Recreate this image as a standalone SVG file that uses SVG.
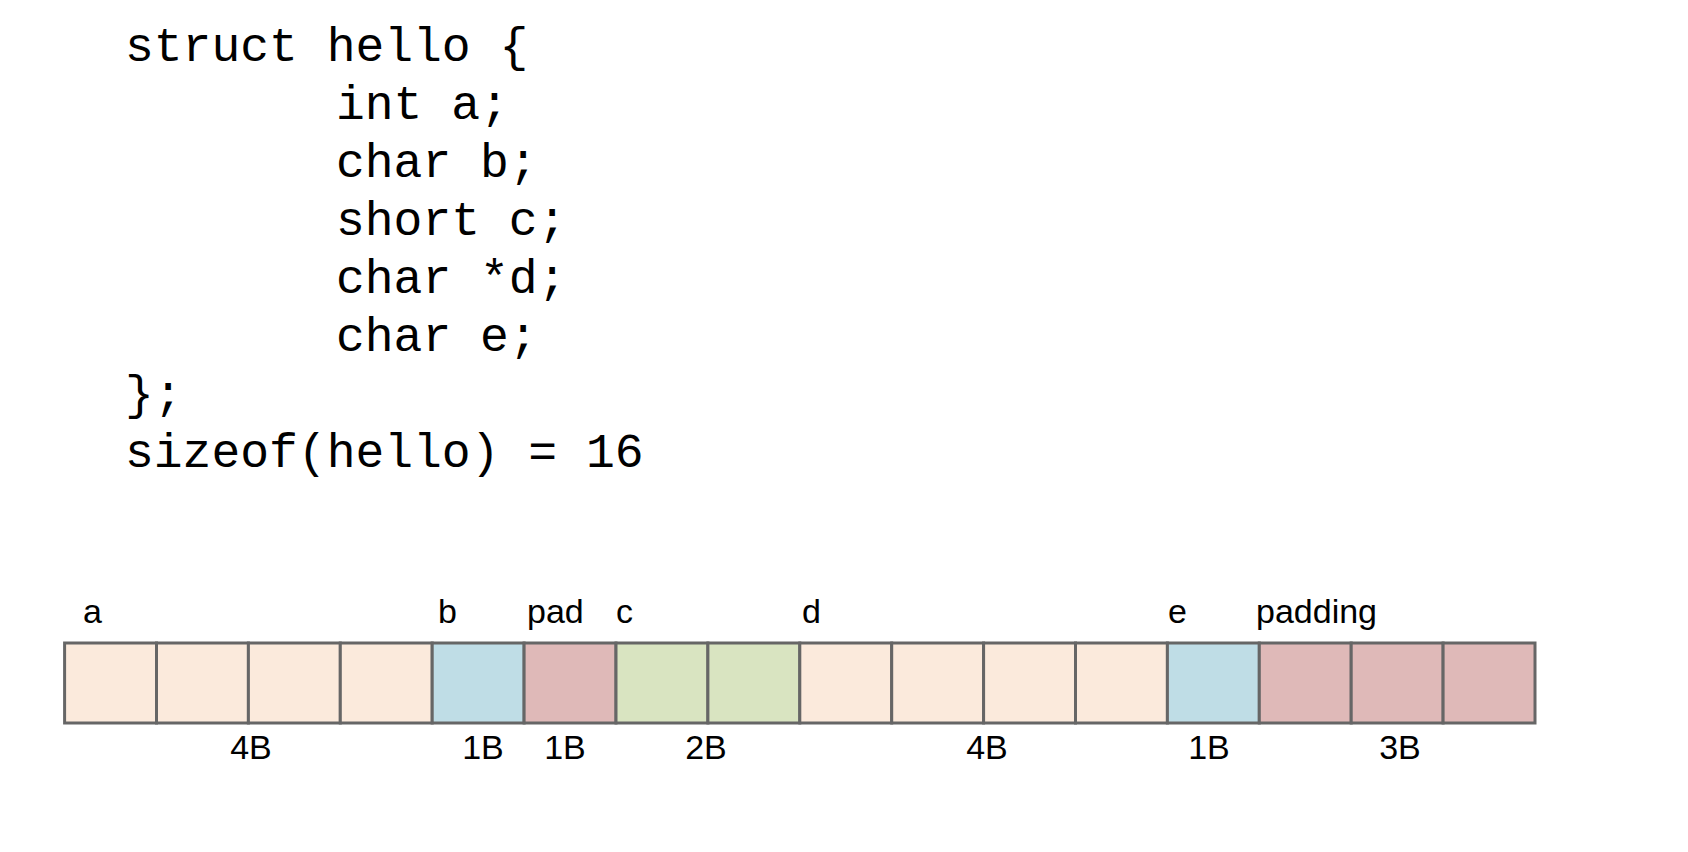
<svg xmlns="http://www.w3.org/2000/svg" width="1688" height="852" viewBox="0 0 1688 852">
<style>
.code{font-family:"Liberation Mono","Courier New",monospace;font-size:48px;fill:#000}
.lbl{font-family:"Liberation Sans",Arial,sans-serif;font-size:34px;fill:#000}
.sz{font-family:"Liberation Sans",Arial,sans-serif;font-size:34px;fill:#000;text-anchor:middle}
.cell{stroke:#666666;stroke-width:3}
.i{fill:#fbeadc}.b{fill:#bfdde6}.p{fill:#dfb9b8}.g{fill:#d9e4c1}
</style>
<rect width="1688" height="852" fill="#fff"/>
<g id="code">
<text class="code" x="125" y="61">struct hello {</text>
<text class="code" x="336" y="119">int a;</text>
<text class="code" x="336" y="177">char b;</text>
<text class="code" x="336" y="235">short c;</text>
<text class="code" x="336" y="293">char *d;</text>
<text class="code" x="336" y="351">char e;</text>
<text class="code" x="125" y="409">};</text>
<text class="code" x="125" y="467">sizeof(hello) = 16</text>
</g>
<g id="cells">
<rect class="cell i" x="64.6" y="643" width="91.9" height="80"/>
<rect class="cell i" x="156.5" y="643" width="91.9" height="80"/>
<rect class="cell i" x="248.4" y="643" width="91.9" height="80"/>
<rect class="cell i" x="340.3" y="643" width="91.9" height="80"/>
<rect class="cell b" x="432.2" y="643" width="91.9" height="80"/>
<rect class="cell p" x="524.1" y="643" width="91.9" height="80"/>
<rect class="cell g" x="616" y="643" width="91.9" height="80"/>
<rect class="cell g" x="707.9" y="643" width="91.9" height="80"/>
<rect class="cell i" x="799.8" y="643" width="91.9" height="80"/>
<rect class="cell i" x="891.7" y="643" width="91.9" height="80"/>
<rect class="cell i" x="983.6" y="643" width="91.9" height="80"/>
<rect class="cell i" x="1075.5" y="643" width="91.9" height="80"/>
<rect class="cell b" x="1167.4" y="643" width="91.9" height="80"/>
<rect class="cell p" x="1259.3" y="643" width="91.9" height="80"/>
<rect class="cell p" x="1351.2" y="643" width="91.9" height="80"/>
<rect class="cell p" x="1443.1" y="643" width="91.9" height="80"/>
</g>
<g id="labels">
<text class="lbl" x="83" y="623">a</text>
<text class="lbl" x="438" y="623">b</text>
<text class="lbl" x="527" y="623">pad</text>
<text class="lbl" x="616" y="623">c</text>
<text class="lbl" x="802" y="623">d</text>
<text class="lbl" x="1168" y="623">e</text>
<text class="lbl" x="1256" y="623">padding</text>
<text class="sz" x="251" y="759">4B</text>
<text class="sz" x="483" y="759">1B</text>
<text class="sz" x="565" y="759">1B</text>
<text class="sz" x="706" y="759">2B</text>
<text class="sz" x="987" y="759">4B</text>
<text class="sz" x="1209" y="759">1B</text>
<text class="sz" x="1400" y="759">3B</text>
</g>
</svg>
